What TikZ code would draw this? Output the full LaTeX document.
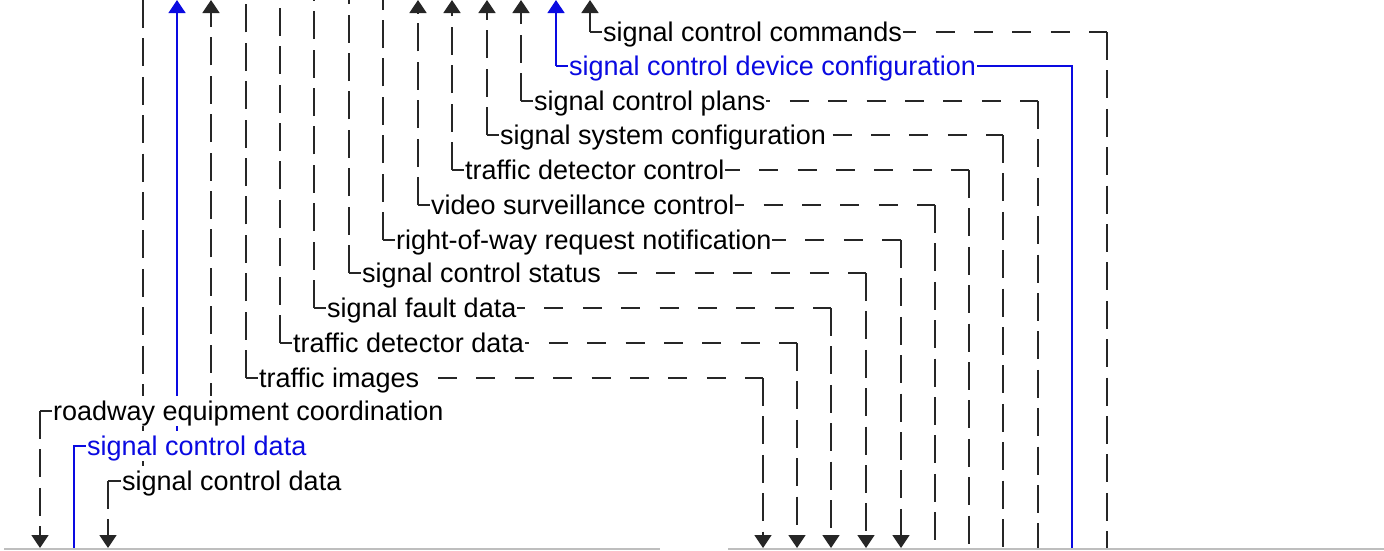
\documentclass[tikz,border=0pt]{standalone}
\usepackage{fontspec}
\setmainfont{Liberation Sans}
\usetikzlibrary{arrows.meta}
\definecolor{flowblue}{RGB}{10,10,225}
\definecolor{edgegray}{RGB}{190,190,190}
\begin{document}
\begin{tikzpicture}[x=1pt,y=-1pt,
  vd/.style={line width=1.8pt, draw=black!85, dash pattern=on 28pt off 10.4pt},
  hd/.style={line width=1.8pt, draw=black!85, dash pattern=on 19pt off 19.4pt},
  bl/.style={line width=1.4pt, draw=flowblue},
  headon/.style={-{Triangle[width=17pt,length=13pt]}},
  headoff/.style={},
  edge/.style={draw=edgegray, line width=2pt},
  lbl/.style={anchor=west, fill=white, inner xsep=1pt, inner ysep=0pt,
    minimum height=30pt, text height=18pt, text depth=0pt,
    font=\fontsize{27pt}{30pt}\selectfont},
  lblk/.style={lbl, text=black},
  lblb/.style={lbl, text=flowblue}]
\useasboundingbox (0,0) rectangle (1384,550);

% top edges of the lower elements
\coordinate (g1a) at (4,549);
\coordinate (g1b) at (660,549);
\coordinate (g2a) at (728,549);
\coordinate (g2b) at (1384,549);
\draw[edge] (g1a) -- (g1b);
\draw[edge] (g2a) -- (g2b);

% flows from the upper verticals to the lower right element (black, dashed)
\foreach \k/\x/\y/\r/\ta/\ba in {
  0/590/32/1107/headon/headoff,
  2/521/101/1038/headon/headoff,
  3/487/135/1003/headon/headoff,
  4/452/170/969/headon/headoff,
  5/418/205/935/headon/headoff,
  6/383/240/901/headoff/headon,
  7/349/273/866/headoff/headon,
  8/314/308/831/headoff/headon,
  9/280/343/797/headoff/headon,
  10/246/378/763/headoff/headon}
{
  \coordinate (t\k) at (\x,0);
  \coordinate (c\k) at (\x,\y);
  \coordinate (r\k) at (\r,\y);
  \coordinate (b\k) at (\r,548);
  \draw[vd,\ta] (c\k) -- (t\k);
  \draw[hd] (c\k) -- (r\k);
  \draw[vd,\ba] (r\k) -- (b\k);
}

% blue flow: signal control device configuration
\coordinate (t1) at (556,0);
\coordinate (c1) at (556,66);
\coordinate (r1) at (1072,66);
\coordinate (b1) at (1072,548);
\draw[bl,headon] (c1) -- (t1);
\draw[bl] (c1) -- (r1) -- (b1);

% roadway equipment coordination (both directions)
\coordinate (t11) at (211,0);
\coordinate (c11) at (211,411);
\coordinate (r11) at (40,411);
\coordinate (b11) at (40,548);
\draw[vd,headon] (c11) -- (t11);
\draw[hd] (r11) -- (c11);
\draw[vd,headon] (r11) -- (b11);

% blue signal control data (bottom left to top)
\coordinate (t12) at (177,0);
\coordinate (c12) at (177,446);
\coordinate (r12) at (74,446);
\coordinate (b12) at (74,548);
\draw[bl,headon] (c12) -- (t12);
\draw[bl] (c12) -- (r12) -- (b12);

% black signal control data (top to bottom left)
\coordinate (t13) at (143,0);
\coordinate (c13) at (143,481);
\coordinate (r13) at (108,481);
\coordinate (b13) at (108,548);
\draw[vd] (t13) -- (c13);
\draw[hd] (r13) -- (c13);
\draw[vd,headon] (r13) -- (b13);

% labels
\node[lblk] (n0)  at ([xshift=12pt]c0)  {signal control commands};
\node[lblb] (n1)  at ([xshift=12pt]c1)  {signal control device configuration};
\node[lblk] (n2)  at ([xshift=12pt]c2)  {signal control plans};
\node[lblk] (n3)  at ([xshift=12pt]c3)  {signal system configuration};
\node[lblk] (n4)  at ([xshift=12pt]c4)  {traffic detector control};
\node[lblk] (n5)  at ([xshift=12pt]c5)  {video surveillance control};
\node[lblk] (n6)  at ([xshift=12pt]c6)  {right-of-way request notification};
\node[lblk] (n7)  at ([xshift=12pt]c7)  {signal control status};
\node[lblk] (n8)  at ([xshift=12pt]c8)  {signal fault data};
\node[lblk] (n9)  at ([xshift=12pt]c9)  {traffic detector data};
\node[lblk] (n10) at ([xshift=12pt]c10) {traffic images};
\node[lblk] (n11) at ([xshift=12pt]r11) {roadway equipment coordination};
\node[lblb] (n12) at ([xshift=12pt]r12) {signal control data};
\node[lblk] (n13) at ([xshift=13pt]r13) {signal control data};
\end{tikzpicture}
\end{document}
